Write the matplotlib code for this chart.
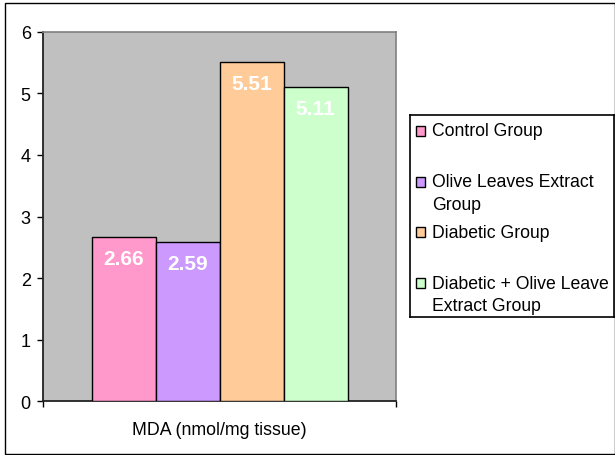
import matplotlib
matplotlib.use("Agg")
import matplotlib.pyplot as plt
from matplotlib.patches import Rectangle

plt.rcParams['font.family'] = ['Liberation Sans', 'DejaVu Sans']

# MDA values for each group
groups = ['Control Group', 'Olive Leaves Extract\nGroup', 'Diabetic Group',
          'Diabetic + Olive Leave\nExtract Group']
mda = [2.66, 2.59, 5.51, 5.11]
colors = ['#FF99CC', '#CC99FF', '#FFCC99', '#CCFFCC']
yticks = [0, 1, 2, 3, 4, 5, 6]
xlabel = 'MDA (nmol/mg tissue)'

W, H = 615, 456
fig = plt.figure(figsize=(W / 100, H / 100), dpi=100)

# outer chart border
fig.patches.append(Rectangle((5 / W, 1 - 455 / H), (W - 5) / W, 451 / H,
                             transform=fig.transFigure, fill=False,
                             edgecolor='black', lw=1))

ax = fig.add_axes([43.3 / W, 1 - 402.3 / H, 352.7 / W, 369.6 / H])
ax.set_facecolor('#C0C0C0')

bw = 0.1815
for i, (v, c) in enumerate(zip(mda, colors)):
    x = 0.5 + (i - 1.5) * bw
    ax.bar(x, v, width=bw, color=c, edgecolor='black', lw=1, zorder=3)
    ax.annotate(f'{v:.2f}', (x, v), xytext=(0, -15.5), textcoords='offset points',
                ha='center', va='center', color='white', fontweight='bold',
                fontsize=15, zorder=4)

ax.set_xlim(0, 1)
ax.set_ylim(0, 6)
ax.set_yticks(yticks)
ax.set_xticks([0, 1])
ax.set_xticklabels([])
ax.tick_params(axis='y', direction='out', length=4, width=1, pad=5, labelsize=13)
ax.tick_params(axis='x', direction='out', length=4.5, width=1)
ax.set_xlabel(xlabel, fontsize=12.8, labelpad=6.5)

for s in ['left', 'bottom']:
    ax.spines[s].set_color('#222222')
    ax.spines[s].set_linewidth(1.3)
for s in ['top', 'right']:
    ax.spines[s].set_color('#808080')
    ax.spines[s].set_linewidth(1.2)

# legend box drawn in pixel units
lx0, ly0, lx1, ly1 = 410, 116, 614, 318
lax = fig.add_axes([lx0 / W, 1 - ly1 / H, (lx1 - lx0) / W, (ly1 - ly0) / H])
lax.set_xlim(0, lx1 - lx0)
lax.set_ylim(ly1 - ly0, 0)
lax.set_xticks([])
lax.set_yticks([])
for s in lax.spines.values():
    s.set_linewidth(1.2)
    s.set_color('black')

entry_gap = 50.7
line_gap = 22.5
for i, (g, c) in enumerate(zip(groups, colors)):
    y = 16 + i * entry_gap
    lax.add_patch(Rectangle((6, y - 5), 9, 10, facecolor=c,
                            edgecolor='black', lw=1))
    for j, line in enumerate(g.split('\n')):
        lax.text(22, y + j * line_gap, line, va='center', ha='left',
                 fontsize=12.7)

fig.savefig('out.png', dpi=100)
